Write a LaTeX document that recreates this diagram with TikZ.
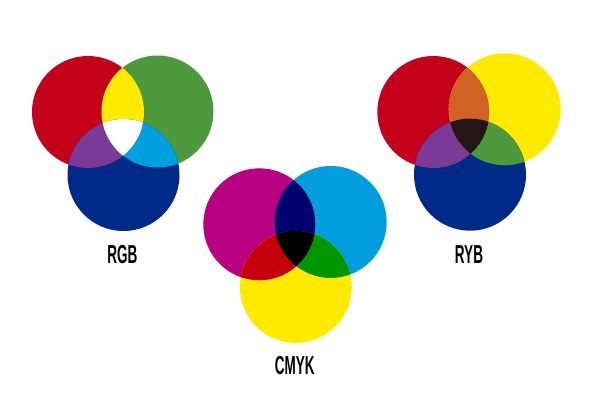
\documentclass[tikz,border=0pt]{standalone}
\usepackage{fontspec}
\usepackage{graphicx}
\setmainfont{Liberation Sans}
\definecolor{cRed}{RGB}{196,0,26}
\definecolor{cGreen}{RGB}{79,153,61}
\definecolor{cBlue}{RGB}{0,42,135}
\definecolor{cYellow}{RGB}{255,234,0}
\definecolor{cCyanI}{RGB}{0,160,224}
\definecolor{cPurple}{RGB}{122,58,150}
\definecolor{cMag}{RGB}{184,0,128}
\definecolor{cCyan}{RGB}{0,158,222}
\definecolor{cNavy}{RGB}{0,0,112}
\definecolor{cRed2}{RGB}{196,0,10}
\definecolor{cGreen2}{RGB}{0,150,0}
\definecolor{cOrange}{RGB}{208,98,35}
\definecolor{cDark}{RGB}{35,22,20}
\tikzset{lbl/.style={font=\bfseries\fontsize{26}{26}\selectfont, inner sep=0pt}}
% #1,#2,#3 = centres A,B,C ; #4..#6 colours A,B,C ; #7 AB ; #8 AC ; #9 BC ; + center colour via \triplecol
\newcommand{\venndiag}[9]{%
  \fill[#4] #1 circle[radius=56pt];
  \fill[#5] #2 circle[radius=56pt];
  \fill[#6] #3 circle[radius=56pt];
  \begin{scope}\clip #1 circle[radius=56pt]; \fill[#7] #2 circle[radius=56pt]; \end{scope}
  \begin{scope}\clip #1 circle[radius=56pt]; \fill[#8] #3 circle[radius=56pt]; \end{scope}
  \begin{scope}\clip #2 circle[radius=56pt]; \fill[#9] #3 circle[radius=56pt]; \end{scope}
  \begin{scope}\clip #1 circle[radius=56pt]; \clip #2 circle[radius=56pt]; \fill[\triplecol] #3 circle[radius=56pt]; \end{scope}
}
\begin{document}
\begin{tikzpicture}[x=1pt,y=-1pt]
\useasboundingbox[fill=white] (0,0) rectangle (600,416);
% RGB
\def\triplecol{white}
\venndiag{(88,112)}{(157.5,111.5)}{(123.5,175)}{cRed}{cGreen}{cBlue}{cYellow}{cPurple}{cCyanI}
% CMYK
\def\triplecol{black}
\venndiag{(259.3,224.3)}{(330.7,222)}{(295.8,286.9)}{cMag}{cCyan}{cYellow}{cNavy}{cRed2}{cGreen2}
% RYB
\def\triplecol{cDark}
\venndiag{(433.3,112)}{(504.7,109.3)}{(470,174.7)}{cRed}{cYellow}{cBlue}{cOrange}{cPurple}{cGreen}
\node[lbl] (rgb) at (122.3,255) {\scalebox{0.52}[1]{RGB}};
\node[lbl] (cmyk) at (294.8,365.8) {\scalebox{0.52}[1]{CMYK}};
\node[lbl] (ryb) at (469,255) {\scalebox{0.52}[1]{RYB}};
\end{tikzpicture}
\end{document}
